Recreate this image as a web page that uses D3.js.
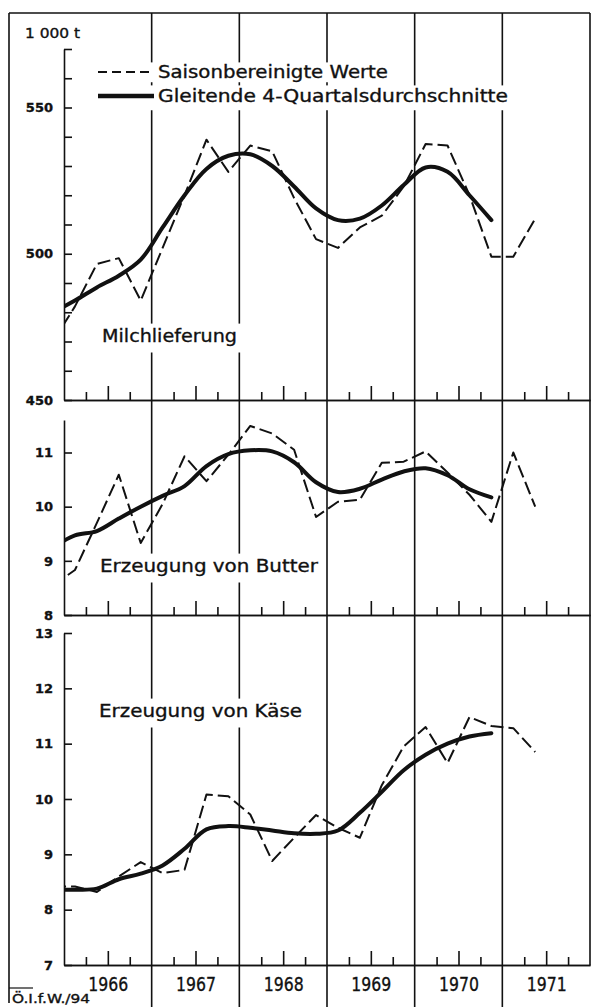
<!DOCTYPE html>
<html><head><meta charset="utf-8">
<script src="https://cdn.jsdelivr.net/npm/d3@7"></script>
<style>
body{margin:0;background:#fff}
svg{display:block}
text{font-family:"DejaVu Sans",sans-serif;fill:#111;stroke:#111;stroke-width:0.35px}
</style></head><body>
<svg id="c" width="592" height="1007"></svg>
<script>
// ---------- data ----------
const years = [1966, 1967, 1968, 1969, 1970, 1971];
const quarters = ["1965 Q4",
  "1966 Q1","1966 Q2","1966 Q3","1966 Q4",
  "1967 Q1","1967 Q2","1967 Q3","1967 Q4",
  "1968 Q1","1968 Q2","1968 Q3","1968 Q4",
  "1969 Q1","1969 Q2","1969 Q3","1969 Q4",
  "1970 Q1","1970 Q2","1970 Q3","1970 Q4",
  "1971 Q1","1971 Q2"];
const movingQuarters = quarters.slice(0, 21);

const milkSeasonal = [470, 482, 496.5, 498.5, 484, 502, 520, 539, 528, 537, 535, 519, 505, 502, 509, 513, 523, 537.5, 537, 520, 499, 499, 512];
const milkMoving   = [480, 484, 488.5, 492.5, 498, 509, 520, 529, 533.5, 534, 530, 523, 515.5, 511.5, 512, 516.5, 523.5, 529.5, 528, 520, 511.5];

const butterSeasonal = [8.55, 8.83, 9.7, 10.59, 9.33, 10.05, 10.93, 10.47, 10.96, 11.49, 11.35, 11.05, 9.81, 10.09, 10.13, 10.81, 10.83, 11.02, 10.63, 10.22, 9.72, 11.0, 10.0];
const butterMoving   = [9.25, 9.47, 9.55, 9.78, 10.0, 10.2, 10.38, 10.75, 10.97, 11.04, 11.02, 10.82, 10.45, 10.27, 10.33, 10.5, 10.65, 10.71, 10.58, 10.32, 10.17];

const cheeseSeasonal = [8.42, 8.42, 8.32, 8.6, 8.86, 8.66, 8.72, 10.08, 10.05, 9.72, 8.88, 9.3, 9.71, 9.48, 9.3, 10.25, 10.95, 11.3, 10.65, 11.48, 11.32, 11.28, 10.85];
const cheeseMoving   = [8.36, 8.36, 8.38, 8.55, 8.65, 8.8, 9.1, 9.45, 9.51, 9.48, 9.43, 9.38, 9.37, 9.43, 9.75, 10.13, 10.52, 10.8, 11.0, 11.13, 11.19];

const milkDomain = [450, 570];
const milkTicks = [460, 470, 480, 490, 500, 510, 520, 530, 540, 550, 560, 570];
const milkTickLabels = [450, 500, 550];
const butterDomain = [8, 11.6];
const butterTicks = [9, 10, 11];
const butterTickLabels = [8, 9, 10, 11];
const cheeseDomain = [7, 13];
const cheeseTicks = [8, 9, 10, 11, 12, 13];
const cheeseTickLabels = [7, 8, 9, 10, 11, 12, 13];

const unitLabel = "1 000 t";
const legendLabels = ["Saisonbereinigte Werte", "Gleitende 4-Quartalsdurchschnitte"];
const panelTitles = ["Milchlieferung", "Erzeugung von Butter", "Erzeugung von Käse"];
const sourceLabel = "Ö.I.f.W./94";

// ---------- layout ----------
const svg = d3.select("#c");
const INK = "#111";
const left = 64, right = 590, frameTop = 13, frameLeft = 9;
const x = d3.scaleLinear().domain([years[0], years[years.length - 1] + 1]).range([left, right]);
const qTime = s => { const [yr, q] = s.split(" Q"); return +yr + (+q - 0.5) / 4; };

const panels = [
  {title: panelTitles[0], seasonal: milkSeasonal, moving: milkMoving, domain: milkDomain, ticks: milkTicks, labels: milkTickLabels, top: 49, bottom: 400, tx: 102, ty: 342, tw: 135},
  {title: panelTitles[1], seasonal: butterSeasonal, moving: butterMoving, domain: butterDomain, ticks: butterTicks, labels: butterTickLabels, top: 420, bottom: 615, tx: 100, ty: 572, tw: 218},
  {title: panelTitles[2], seasonal: cheeseSeasonal, moving: cheeseMoving, domain: cheeseDomain, ticks: cheeseTicks, labels: cheeseTickLabels, top: 633, bottom: 965, tx: 99, ty: 717, tw: 203}
];
panels.forEach(p => { p.y = d3.scaleLinear().domain(p.domain).range([p.bottom, p.top]); });

// frame
const gFrame = svg.append("g").attr("stroke", INK).attr("stroke-width", 1.6);
gFrame.append("line").attr("x1", frameLeft).attr("x2", right).attr("y1", frameTop).attr("y2", frameTop);
gFrame.append("line").attr("x1", frameLeft).attr("x2", frameLeft).attr("y1", frameTop).attr("y2", 1003);
gFrame.append("line").attr("x1", right).attr("x2", right).attr("y1", frameTop).attr("y2", panels[2].bottom);
// year separator lines
gFrame.selectAll("line.yr").data(years.slice(1)).join("line").attr("class", "yr")
  .attr("x1", d => x(d)).attr("x2", d => x(d)).attr("y1", frameTop).attr("y2", 1007);

// white boxes behind labels (break the year lines)
const gBg = svg.append("g").attr("fill", "#fff");
function bg(x0, base, w, fs, padX, padTop, padBot) {
  gBg.append("rect").attr("x", x0 - padX).attr("y", base - fs * 0.8 - padTop)
    .attr("width", w + 2 * padX).attr("height", fs * 1.05 + padTop + padBot);
}
bg(95, 78, 293, 17, 3, 2, 0);
bg(95, 102, 413, 17, 3, 3, 4);
panels.forEach(p => bg(p.tx, p.ty, p.tw, 18, 4, 4, 6));

// axes per panel
panels.forEach((p, i) => {
  const vals = Array.from(new Set(p.ticks.concat(p.labels))).sort((a, b) => a - b);
  const ax = d3.axisLeft(p.y).tickValues(vals).tickSizeInner(-8).tickSizeOuter(0).tickPadding(11)
    .tickFormat(d => p.labels.includes(d) ? d3.format("d")(d) : "");
  const g = svg.append("g").attr("transform", `translate(${left},0)`).call(ax);
  g.selectAll("path,line").attr("stroke", INK).attr("stroke-width", 1.6);
  g.selectAll("text").attr("font-family", "Liberation Sans, Arial, sans-serif")
    .attr("font-weight", "bold").attr("font-size", 13).attr("fill", INK);

  // bottom axis with quarter ticks
  const qTicks = years.flatMap(yr => [yr + 0.25, yr + 0.75]);
  const hTicks = years.map(yr => yr + 0.5);
  const gb = svg.append("g").attr("transform", `translate(0,${p.bottom})`);
  gb.append("g").call(d3.axisBottom(x).tickValues(qTicks).tickSizeInner(-8).tickSizeOuter(0).tickFormat(""));
  gb.append("g").call(d3.axisBottom(x).tickValues(hTicks).tickSizeInner(-14).tickSizeOuter(0).tickFormat(""));
  gb.selectAll("path,line").attr("stroke", INK).attr("stroke-width", 1.6);

  if (i === panels.length - 1) {
    const gy = svg.append("g").attr("transform", `translate(0,${p.bottom})`)
      .call(d3.axisBottom(x).tickValues(hTicks).tickSize(0).tickPadding(12).tickFormat(d => String(Math.floor(d))));
    gy.select(".domain").remove();
    gy.selectAll("text").attr("font-size", 20).attr("fill", INK)
      .attr("textLength", 40).attr("lengthAdjust", "spacingAndGlyphs");
  }

  // clip
  const cid = "clip" + i;
  svg.append("clipPath").attr("id", cid).append("rect")
    .attr("x", left).attr("y", p.top - 10).attr("width", right - left).attr("height", p.bottom - p.top + 10);

  const lineS = d3.line().x(d => x(d.t)).y(d => p.y(d.v));
  const lineM = d3.line().x(d => x(d.t)).y(d => p.y(d.v)).curve(d3.curveCatmullRom.alpha(0.5));
  const sData = quarters.map((q, k) => ({t: qTime(q), v: p.seasonal[k]}));
  const mData = movingQuarters.map((q, k) => ({t: qTime(q), v: p.moving[k]}));
  const gd = svg.append("g").attr("clip-path", `url(#${cid})`);
  gd.append("path").attr("d", lineS(sData)).attr("fill", "none").attr("stroke", INK)
    .attr("stroke-width", 2).attr("stroke-dasharray", "13,5").attr("stroke-linejoin", "round");
  gd.append("path").attr("d", lineM(mData)).attr("fill", "none").attr("stroke", INK)
    .attr("stroke-width", 4).attr("stroke-linecap", "round");

  svg.append("text").attr("x", p.tx).attr("y", p.ty).attr("font-size", 18)
    .attr("textLength", p.tw).attr("lengthAdjust", "spacingAndGlyphs").text(p.title);
});

// unit label
svg.append("text").attr("x", 25).attr("y", 38).attr("font-size", 14)
  .attr("textLength", 55).attr("lengthAdjust", "spacingAndGlyphs").text(unitLabel);

// legend
svg.append("line").attr("x1", 98).attr("x2", 154).attr("y1", 72).attr("y2", 72)
  .attr("stroke", INK).attr("stroke-width", 2).attr("stroke-dasharray", "9,5");
svg.append("line").attr("x1", 98).attr("x2", 154).attr("y1", 96).attr("y2", 96)
  .attr("stroke", INK).attr("stroke-width", 4.5);
svg.append("text").attr("x", 158).attr("y", 78).attr("font-size", 17)
  .attr("textLength", 230).attr("lengthAdjust", "spacingAndGlyphs").text(legendLabels[0]);
svg.append("text").attr("x", 158).attr("y", 102).attr("font-size", 17)
  .attr("textLength", 350).attr("lengthAdjust", "spacingAndGlyphs").text(legendLabels[1]);

// source label
svg.append("line").attr("x1", frameLeft).attr("x2", 33).attr("y1", 988).attr("y2", 988)
  .attr("stroke", INK).attr("stroke-width", 1.2);
svg.append("text").attr("x", 12).attr("y", 1003).attr("font-size", 12.5)
  .attr("textLength", 78).attr("lengthAdjust", "spacingAndGlyphs").text(sourceLabel);
</script>
</body></html>
